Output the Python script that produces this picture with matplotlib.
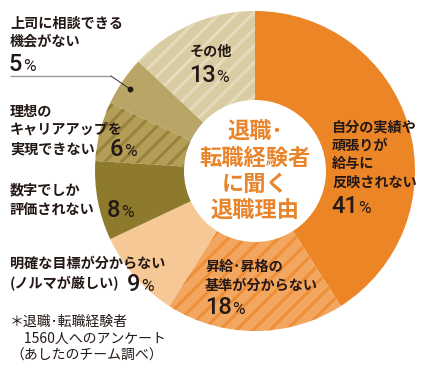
import matplotlib
matplotlib.use('Agg')
import matplotlib.pyplot as plt
from matplotlib.patches import Circle

plt.rcParams['font.family'] = ['Noto Sans CJK JP', 'DejaVu Sans']
plt.rcParams['hatch.linewidth'] = 2.2

# ---- data ----
categories = ['自分の実績や頑張りが給与に反映されない', '昇給･昇格の基準が分からない',
              '明確な目標が分からない(ノルマが厳しい)', '数字でしか評価されない',
              '理想のキャリアアップを実現できない', '上司に相談できる機会がない', 'その他']
values = [41, 18, 9, 8, 6, 5, 13]
label_lines = [
    ['自分の実績や', '頑張りが', '給与に', '反映されない'],
    ['昇給･昇格の', '基準が分からない'],
    ['明確な目標が分からない', '(ノルマが厳しい)'],
    ['数字でしか', '評価されない'],
    ['理想の', 'キャリアアップを', '実現できない'],
    ['上司に相談できる', '機会がない'],
    ['その他'],
]
center_title = ['退職･', '転職経験者', 'に聞く', '退職理由']
note_lines = ['＊退職･転職経験者', '　1560人へのアンケート', '（あしたのチーム調べ）']

# ---- style ----
face = ['#EC8526', '#F3A660', '#F6C896', '#8E7A2C', '#B39D57', '#B9A565', '#D9CCA2']
hatchc = [None, '#ED8F38', None, None, '#98833C', None, '#E6DCBD']

W, H = 430, 370
fig = plt.figure(figsize=(4.3, 3.7), dpi=100)
ax = fig.add_axes([0, 0, 1, 1])
cx, cy, R = 255, 171, 160

wedges, _ = ax.pie(values, colors=face, startangle=-90, counterclock=True,
                   center=(cx, cy), radius=R, wedgeprops=dict(linewidth=0), frame=True)
for w, hc in zip(wedges, hatchc):
    if hc:
        w.set_hatch('//')
        w.set_edgecolor(hc)
        w.set_linewidth(0)
ax.add_patch(Circle((cx, cy), 71, facecolor='white', edgecolor='none', zorder=3))
ax.set_xlim(0, W)
ax.set_ylim(H, 0)
ax.set_aspect('equal')
ax.axis('off')

txtc = '#231815'
LFS = 10.2

def lines(x, ys, texts, **kw):
    for y, t in zip(ys, texts):
        ax.text(x, y, t, ha='left', va='center', fontsize=LFS, color=txtc,
                fontweight='bold', zorder=5, **kw)

renderer = fig.canvas.get_renderer()

def pct(x, ybase, v, fs=17, pfs=12.5):
    t = ax.text(x, ybase, str(v), ha='left', va='baseline', fontsize=fs,
                color=txtc, fontweight='medium', family=['Roboto', 'DejaVu Sans'], zorder=5)
    bb = t.get_window_extent(renderer)
    xr = ax.transData.inverted().transform((bb.x1, bb.y0))[0]
    ax.text(xr + 0.5, ybase, '%', ha='left', va='baseline', fontsize=pfs,
            color=txtc, fontweight='normal', family=['Roboto', 'DejaVu Sans'], zorder=5)

# 41%
lines(332, [127, 146, 164, 183], label_lines[0])
pct(331, 213, values[0])
# 18%
lines(205, [267, 286], label_lines[1])
pct(205, 314, values[1])
# 9%
lines(10, [264, 284], label_lines[2])
pct(127, 291, values[2])
# 8%
lines(10, [190, 211], label_lines[3])
pct(107, 217, values[3])
# 6%
lines(10, [112, 130, 149], label_lines[4])
pct(110, 156, values[4])
# 5%
lines(10, [24, 42], label_lines[5])
pct(9, 71, values[5])
# 13%
lines(190, [52], label_lines[6])
pct(189, 82, values[6])

# leader line for 5%
ax.plot([10, 111], [76, 76], color='#9a9a9a', lw=1.0, zorder=4, solid_capstyle='butt')
ax.plot([111, 130], [76, 89], color='#333333', lw=0.7, zorder=4)
ax.plot([130], [89], 'o', color='#231815', ms=3.2, zorder=5)

# center title
for y, t in zip([132, 158, 184, 210], center_title):
    ax.text(cx, y, t, ha='center', va='center', fontsize=16, color='#E8852C',
            fontweight='bold', zorder=5)

# note
for y, t in zip([322, 339, 356], note_lines):
    ax.text(10, y, t, ha='left', va='center', fontsize=10, color=txtc, zorder=5)

fig.savefig('out.png', dpi=100)
